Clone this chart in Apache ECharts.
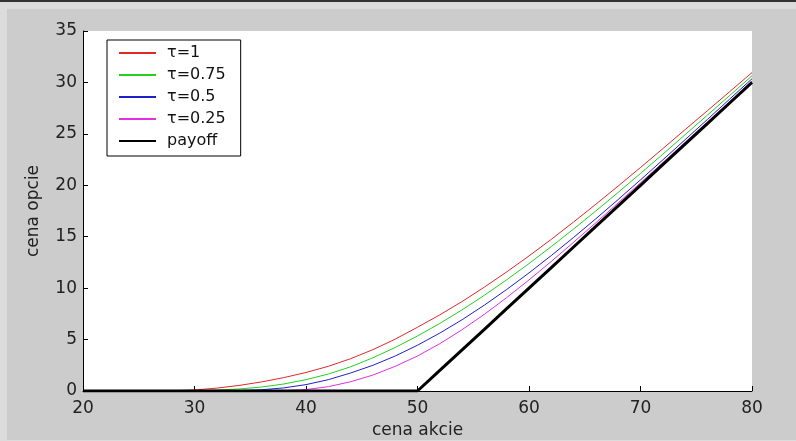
<!DOCTYPE html>
<html>
<head>
<meta charset="utf-8">
<script src="https://cdn.jsdelivr.net/npm/echarts@6/dist/echarts.min.js"></script>
<style>
  html, body { margin: 0; padding: 0; }
  #chart { width: 796px; height: 441px; }
</style>
</head>
<body>
<div id="chart"></div>
<script>
  // stock prices (x) and option prices
  let prices = [20, 22, 24, 26, 28, 30, 32, 34, 36, 38, 40, 42, 44, 46, 48, 50,
                52, 54, 56, 58, 60, 62, 64, 66, 68, 70, 72, 74, 76, 78, 80];

  let tau1 = [0, 0, 0, 0, 0.02, 0.1, 0.28, 0.54, 0.88, 1.3, 1.8, 2.4, 3.14, 4.02, 5.04, 6.2,
              7.4, 8.7, 10.1, 11.58, 13.13, 14.75, 16.43, 18.16, 19.93, 21.73, 23.56, 25.41, 27.25, 29.1, 30.96];
  let tau075 = [0, 0, 0, 0, 0.01, 0.03, 0.09, 0.2, 0.38, 0.68, 1.1, 1.65, 2.35, 3.23, 4.23, 5.35,
                6.57, 7.89, 9.31, 10.81, 12.39, 14.04, 15.75, 17.51, 19.31, 21.15, 23.02, 24.92, 26.82, 28.73, 30.65];
  let tau05 = [0, 0, 0, 0, 0, 0, 0.01, 0.04, 0.12, 0.3, 0.62, 1.1, 1.75, 2.5, 3.4, 4.45,
               5.63, 6.93, 8.35, 9.87, 11.48, 13.17, 14.93, 16.75, 18.62, 20.53, 22.47, 24.43, 26.4, 28.38, 30.36];
  let tau025 = [0, 0, 0, 0, 0, 0, 0, 0, 0, 0.03, 0.14, 0.42, 0.9, 1.55, 2.4, 3.4,
                4.6, 5.96, 7.46, 9.08, 10.8, 12.6, 14.46, 16.36, 18.29, 20.24, 22.2, 24.17, 26.15, 28.14, 30.13];
  let payoff = [0, 0, 0, 0, 0, 0, 0, 0, 0, 0, 0, 0, 0, 0, 0, 0,
                2, 4, 6, 8, 10, 12, 14, 16, 18, 20, 22, 24, 26, 28, 30];

  let xTicks = [20, 30, 40, 50, 60, 70, 80];
  let yTicks = [0, 5, 10, 15, 20, 25, 30, 35];

  let names = ['τ=1', 'τ=0.75', 'τ=0.5', 'τ=0.25', 'payoff'];
  let colors = ['#e02828', '#22d022', '#2020c8', '#e030e0', '#000000'];
  let widths = [1, 1, 1, 1, 3];
  let values = [tau1, tau075, tau05, tau025, payoff];

  function pairs(ys) {
    return prices.map((x, i) => [x, ys[i]]);
  }

  let font = 'DejaVu Sans, Verdana, sans-serif';

  let chart = echarts.init(document.getElementById('chart'));
  chart.setOption({
    animation: false,
    graphic: {
      elements: [
        {type: 'rect', z: -100, shape: {x: 0, y: 0, width: 796, height: 441}, style: {fill: '#dcdcdc'}},
        {type: 'rect', z: -99, shape: {x: 0, y: 0, width: 796, height: 2}, style: {fill: '#333333'}},
        {type: 'rect', z: -98, shape: {x: 7, y: 9, width: 789, height: 431}, style: {fill: '#cccccc'}}
      ]
    },
    grid: {
      left: 83, top: 31, width: 669, height: 360,
      outerBoundsMode: 'none',
      show: true, backgroundColor: '#ffffff', borderWidth: 0
    },
    legend: {
      orient: 'vertical',
      left: 107, top: 40,
      data: names,
      itemWidth: 37, itemHeight: 14, itemGap: 6,
      padding: [5, 15, 7, 11],
      backgroundColor: '#ffffff',
      borderColor: '#000000', borderWidth: 1, borderRadius: 0,
      itemStyle: {opacity: 0},
      textStyle: {fontFamily: font, fontSize: 16, lineHeight: 16, color: '#111', padding: [0, 0, 0, 6]}
    },
    xAxis: {
      type: 'value', min: 20, max: 80, interval: 10,
      name: 'cena akcie', nameLocation: 'middle', nameGap: 31,
      nameTextStyle: {fontFamily: font, fontSize: 17, color: '#222'},
      axisLine: {lineStyle: {color: '#000', width: 1}},
      axisTick: {inside: true, length: 5, lineStyle: {color: '#000'}},
      axisLabel: {
        fontFamily: font, fontSize: 17, color: '#222', margin: 9,
        formatter: v => xTicks.includes(v) ? String(v) : ''
      },
      splitLine: {show: false}
    },
    yAxis: {
      type: 'value', min: 0, max: 35, interval: 5,
      name: 'cena opcie', nameLocation: 'middle', nameGap: 41,
      nameTextStyle: {fontFamily: font, fontSize: 17, color: '#222'},
      axisLine: {show: true, lineStyle: {color: '#000', width: 1}},
      axisTick: {show: true, inside: true, length: 5, lineStyle: {color: '#000'}},
      axisLabel: {
        fontFamily: font, fontSize: 17, color: '#222', margin: 6,
        formatter: v => yTicks.includes(v) ? String(v) : ''
      },
      splitLine: {show: false}
    },
    series: names.map((n, i) => ({
      name: n,
      type: 'line',
      data: pairs(values[i]),
      symbol: 'none',
      smooth: false,
      color: colors[i],
      lineStyle: {color: colors[i], width: widths[i]}
    }))
  });
</script>
</body>
</html>
